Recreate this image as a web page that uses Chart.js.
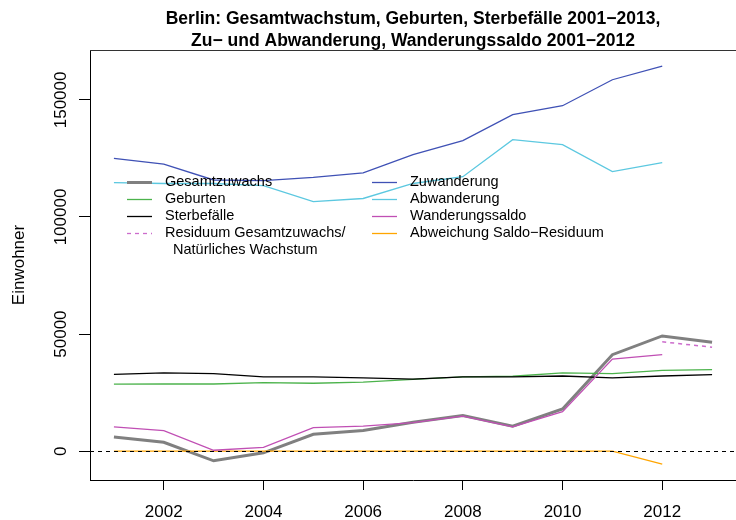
<!DOCTYPE html>
<html lang="de">
<head>
  <meta charset="UTF-8">
  <title>Berlin: Bevölkerungsbewegung</title>
  <script src="https://cdn.jsdelivr.net/npm/chart.js@4"></script>
  <style>
    body {
      margin: 0;
      background: #fff;
    }
    #wrap {
      width: 736px;
      height: 520px;
    }
  </style>
</head>
<body>
  <div id="wrap">
    <canvas id="chart" width="736" height="520"></canvas>
  </div>

  <script>
    // Daten
    const years = [2001, 2002, 2003, 2004, 2005, 2006, 2007, 2008, 2009, 2010, 2011, 2012, 2013];
    const gesamtzuwachs = [6100, 3800, -4100, -700, 7200, 8800, 12400, 15200, 10700, 18000, 41200, 49200, 46500];
    const geburten = [28600, 28700, 28700, 29300, 29000, 29500, 30700, 31700, 32000, 33400, 33100, 34500, 34800];
    const sterbefaelle = [32800, 33400, 33100, 31700, 31700, 31300, 30800, 31700, 31700, 32100, 31300, 32100, 32700];
    const residuum = [null, null, null, null, null, null, null, null, null, null, null, 46700, 44400];
    const zuwanderung = [125000, 122600, 115800, 115500, 116900, 118800, 126600, 132600, 143700, 147500, 158600, 164400];
    const abwanderung = [114700, 114300, 114300, 113400, 106600, 107900, 114300, 117200, 133000, 130900, 119400, 123200];
    const wanderungssaldo = [10400, 8800, 400, 1600, 10100, 10700, 12200, 15000, 10400, 16900, 39300, 41200];
    const abweichung = [0, 0, 0, 0, 0, 0, 0, 0, 0, 0, 0, -5500];

    const xTicks = [2002, 2004, 2006, 2008, 2010, 2012];
    const yTicks = [0, 50000, 100000, 150000];

    const titleLines = [
      "Berlin: Gesamtwachstum, Geburten, Sterbefälle 2001\u22122013,",
      "Zu\u2212 und Abwanderung, Wanderungssaldo 2001\u22122012"
    ];
    const yTitle = "Einwohner";

    const FONT = "'Liberation Sans', Arial, Helvetica, sans-serif";

    function series(values) {
      return values.map((v, i) => ({ x: years[i], y: v }));
    }

    function line(label, values, color, width, order, dash) {
      return {
        label: label,
        data: series(values),
        borderColor: color,
        backgroundColor: color,
        borderWidth: width,
        borderDash: dash || [],
        pointRadius: 0,
        tension: 0,
        spanGaps: false,
        order: order
      };
    }

    const datasets = [
      line("Gesamtzuwachs", gesamtzuwachs, "#808080", 3, 9),
      line("Geburten", geburten, "#4cb34c", 1.3, 8),
      line("Sterbefälle", sterbefaelle, "#000000", 1.3, 7),
      line("Residuum", residuum, "#cc6ccc", 1.5, 1, [4, 4]),
      line("Zuwanderung", zuwanderung, "#3f51b5", 1.3, 5),
      line("Abwanderung", abwanderung, "#5cc8e0", 1.3, 4),
      line("Wanderungssaldo", wanderungssaldo, "#c04fb4", 1.3, 3),
      line("Abweichung Saldo\u2212Residuum", abweichung, "#ffa500", 1.3, 6)
    ];

    // Legende wie in R: zwei Spalten, ohne Rahmen
    const legendCols = [
      [
        { text: ["Gesamtzuwachs"], color: "#808080", width: 3 },
        { text: ["Geburten"], color: "#4cb34c", width: 1.3 },
        { text: ["Sterbefälle"], color: "#000000", width: 1.3 },
        { text: ["Residuum Gesamtzuwachs/", "  Natürliches Wachstum"], color: "#cc6ccc", width: 1.3, dash: [4, 4] }
      ],
      [
        { text: ["Zuwanderung"], color: "#3f51b5", width: 1.3 },
        { text: ["Abwanderung"], color: "#5cc8e0", width: 1.3 },
        { text: ["Wanderungssaldo"], color: "#c04fb4", width: 1.3 },
        { text: ["Abweichung Saldo\u2212Residuum"], color: "#ffa500", width: 1.3 }
      ]
    ];

    const rPlot = {
      id: "rPlot",
      afterDatasetsDraw(chart) {
        const ctx = chart.ctx;
        const area = chart.chartArea;
        const y = chart.scales.y;
        // abline(h = 0, lty = 2)
        ctx.save();
        ctx.strokeStyle = "#000";
        ctx.lineWidth = 1;
        ctx.setLineDash([4, 4]);
        const y0 = Math.round(y.getPixelForValue(0)) + 0.5;
        ctx.beginPath();
        ctx.moveTo(area.left, y0);
        ctx.lineTo(area.right, y0);
        ctx.stroke();
        ctx.restore();
      },
      afterDraw(chart) {
        const ctx = chart.ctx;
        const area = chart.chartArea;
        const y = chart.scales.y;
        ctx.save();

        // top border of the box
        ctx.strokeStyle = "#333";
        ctx.lineWidth = 1;
        ctx.beginPath();
        ctx.moveTo(area.left, area.top + 0.5);
        ctx.lineTo(area.right, area.top + 0.5);
        ctx.stroke();

        // title
        const cx = (area.left + area.right) / 2;
        ctx.fillStyle = "#000";
        ctx.textAlign = "center";
        ctx.textBaseline = "alphabetic";
        ctx.font = "bold 17.5px " + FONT;
        ctx.fillText(titleLines[0], cx, 24);
        ctx.fillText(titleLines[1], cx, 46);

        // y tick labels, rotated as in R
        ctx.font = "17px " + FONT;
        yTicks.forEach(v => {
          ctx.save();
          ctx.translate(66, y.getPixelForValue(v));
          ctx.rotate(-Math.PI / 2);
          ctx.textAlign = "center";
          ctx.fillText(String(v), 0, 0);
          ctx.restore();
        });

        // y axis title
        ctx.save();
        ctx.translate(24, (area.top + area.bottom) / 2);
        ctx.rotate(-Math.PI / 2);
        ctx.textAlign = "center";
        ctx.fillText(yTitle, 0, 0);
        ctx.restore();

        // legend
        ctx.font = "14.5px " + FONT;
        ctx.textAlign = "left";
        ctx.textBaseline = "middle";
        const startX = [127, 372];
        legendCols.forEach((col, c) => {
          let rowY = 182;
          col.forEach(item => {
            ctx.strokeStyle = item.color;
            ctx.lineWidth = item.width;
            ctx.setLineDash(item.dash || []);
            ctx.beginPath();
            ctx.moveTo(startX[c], rowY + 0.5);
            ctx.lineTo(startX[c] + 25, rowY + 0.5);
            ctx.stroke();
            ctx.setLineDash([]);
            ctx.fillStyle = "#000";
            item.text.forEach((t, k) => {
              ctx.fillText(t, startX[c] + 38, rowY + k * 16.5);
            });
            rowY += 17;
          });
        });

        ctx.restore();
      }
    };

    new Chart(document.getElementById("chart"), {
      type: "line",
      data: { datasets: datasets },
      options: {
        responsive: false,
        animation: false,
        devicePixelRatio: 1,
        layout: { padding: { top: 50, left: 0, right: 0, bottom: 0 } },
        plugins: {
          legend: { display: false },
          title: { display: false },
          tooltip: { enabled: false }
        },
        scales: {
          x: {
            type: "linear",
            min: 2000.52,
            max: 2013.48,
            afterBuildTicks: s => { s.ticks = xTicks.map(v => ({ value: v })); },
            afterFit: s => { s.height = 40; },
            grid: { display: true, drawOnChartArea: false, drawTicks: true, tickLength: 10, color: "#000" },
            border: { display: true, color: "#000", width: 1 },
            ticks: {
              color: "#000",
              font: { family: FONT, size: 17 },
              padding: 12,
              maxRotation: 0,
              autoSkip: false,
              callback: v => String(v)
            }
          },
          y: {
            type: "linear",
            min: -12300,
            max: 171300,
            afterBuildTicks: s => { s.ticks = yTicks.map(v => ({ value: v })); },
            afterFit: s => { s.width = 90; },
            grid: { display: true, drawOnChartArea: false, drawTicks: true, tickLength: 11, color: "#000" },
            border: { display: true, color: "#000", width: 1 },
            ticks: { display: false }
          }
        }
      },
      plugins: [rPlot]
    });
  </script>
</body>
</html>
